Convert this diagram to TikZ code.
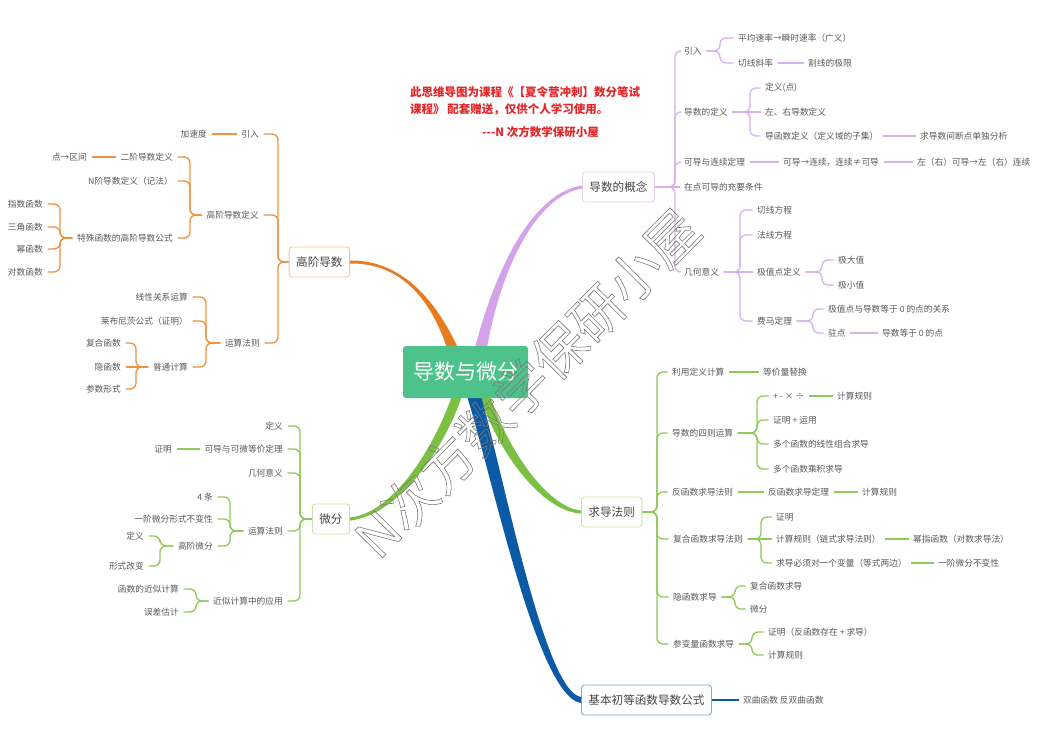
\documentclass[tikz,border=0pt]{standalone}
\usepackage{fontspec}
\setmainfont{Noto Sans CJK SC}
\usetikzlibrary{calc}
\definecolor{txt}{HTML}{595959}
\definecolor{txtb}{HTML}{454545}
\definecolor{org}{HTML}{EA7A1E}
\definecolor{orgl}{HTML}{EE9240}
\definecolor{orgb}{HTML}{F3C59C}
\definecolor{pur}{HTML}{D3A2E8}
\definecolor{purl}{HTML}{D8B0EA}
\definecolor{purb}{HTML}{E6D2EE}
\definecolor{grn}{HTML}{7CC043}
\definecolor{grnl}{HTML}{8FC95A}
\definecolor{grnb}{HTML}{CDE5B2}
\definecolor{blu}{HTML}{0B5AA6}
\definecolor{blub}{HTML}{78ACD9}
\definecolor{ctr}{HTML}{4DC28A}
\definecolor{redt}{HTML}{E3262A}
\definecolor{wm}{HTML}{7A7A7A}
\newcommand\rc[3]{\draw[cn] (#1.east) -- (#1.east -| #3,0) |- (#2.west);}
\newcommand\lc[3]{\draw[cn] (#1.west) -- (#1.west -| #3,0) |- (#2.east);}
\newcommand\rs[2]{\draw[cn] (#1.east) -- (#2.west);}
\newcommand\ls[2]{\draw[cn] (#1.west) -- (#2.east);}
\begin{document}
\begin{tikzpicture}[x=1pt,y=-1pt,
  t/.style={font=\fontsize{8.7}{10}\selectfont, text=txt, inner xsep=4.5pt, inner ysep=1pt},
  R/.style={t, anchor=west, xshift=-4.5pt},
  L/.style={t, anchor=east, xshift=4.5pt},
  cn/.style={line width=1.3pt, rounded corners=6pt},
  lone/.style={draw, rounded corners=3pt, line width=0.9pt, fill=white, font=\fontsize{11.6}{13}\selectfont, text=txtb, inner xsep=7pt, minimum height=30pt},
  redn/.style={anchor=west, font=\bfseries\fontsize{11.5}{13}\selectfont, text=redt, inner sep=0pt}
]
\useasboundingbox[fill=white] (0,0) rectangle (1047,729);

% ---------- level-1 and centre nodes
\node[lone, draw=purb, anchor=west] (gn) at (582,187) {导数的概念};
\node[lone, draw=grnb, anchor=west] (qd) at (581,512) {求导法则};
\node[lone, draw=blub, anchor=west] (jb) at (581,700) {基本初等函数导数公式};
\node[lone, draw=orgb, anchor=east] (gj) at (350,262) {高阶导数};
\node[lone, draw=grnb, anchor=east] (wf) at (350,519) {微分};

% ---------- main branches
\fill[org] (447,348) .. controls (428,292) and (396,263) .. ($(gj.east)+(0,1.5)$) -- ($(gj.east)+(0,-1.5)$) .. controls (396,260) and (432,292) .. (458,348) -- cycle;
\fill[pur] (475,348) .. controls (495,270) and (532,193) .. ($(gn.west)+(0,-1.5)$) -- ($(gn.west)+(0,1.5)$) .. controls (535,196) and (500,272) .. (487,348) -- cycle;
\fill[grn] (452,396) .. controls (432,452) and (392,513) .. ($(wf.east)+(0,-1.5)$) -- ($(wf.east)+(0,1.5)$) .. controls (395,516) and (442,455) .. (462,396) -- cycle;
\fill[grn] (490,396) .. controls (510,455) and (550,508) .. ($(qd.west)+(0,-1.5)$) -- ($(qd.west)+(0,1.5)$) .. controls (545,512) and (500,458) .. (480,396) -- cycle;
\fill[blu] (481,396) .. controls (505,482) and (545,692) .. ($(jb.west)+(0,-3)$) -- ($(jb.west)+(0,3)$) .. controls (538,697) and (494,484) .. (467,396) -- cycle;

\node[fill=ctr, rounded corners=3pt, minimum width=125pt, minimum height=52pt, text=white, font=\fontsize{21}{24}\selectfont, inner sep=0pt] (c) at (465.5,372) {导数与微分};

% ---------- red note
\node[redn] (r1) at (410,92) {此思维导图为课程《【夏令营冲刺】数分笔试};
\node[redn] (r2) at (410,109) {课程》 配套赠送，仅供个人学习使用。};
\node[redn] (r3) at (482,132) {-\kern0pt-\kern0pt-N 次方数学保研小屋};

% ---------- purple group
\node[R] (p1) at (684,51) {引入};
\node[R] (p11) at (738,38) {平均速率→瞬时速率（广义）};
\node[R] (p12) at (738,63) {切线斜率};
\node[R] (p121) at (808,63) {割线的极限};
\node[R] (p2) at (684,112) {导数的定义};
\node[R] (p21) at (765,88) {定义(点)};
\node[R] (p22) at (765,112) {左、右导数定义};
\node[R] (p23) at (765,136) {导函数定义（定义域的子集）};
\node[R] (p231) at (920,136) {求导数间断点单独分析};
\node[R] (p3) at (684,162) {可导与连续定理};
\node[R] (p31) at (783,162) {可导→连续，连续≠可导};
\node[R] (p311) at (917,162) {左（右）可导→左（右）连续};
\node[R] (p4) at (684,187) {在点可导的充要条件};
\node[R] (p5) at (684,272) {几何意义};
\node[R] (p51) at (757,210) {切线方程};
\node[R] (p52) at (757,235) {法线方程};
\node[R] (p53) at (757,272) {极值点定义};
\node[R] (p531) at (838,260) {极大值};
\node[R] (p532) at (838,285) {极小值};
\node[R] (p54) at (757,321) {费马定理};
\node[R] (p541) at (828,309) {极值点与导数等于 0 的点的关系};
\node[R] (p542) at (828,333) {驻点};
\node[R] (p5421) at (882,333) {导数等于 0 的点};
\begin{scope}[color=purl]
\rc{gn}{p1}{675} \rc{gn}{p2}{675} \rc{gn}{p3}{675} \rs{gn}{p4} \rc{gn}{p5}{675}
\rc{p1}{p11}{720} \rc{p1}{p12}{720} \rs{p12}{p121}
\rc{p2}{p21}{750} \rs{p2}{p22} \rc{p2}{p23}{750} \rs{p23}{p231}
\rs{p3}{p31} \rs{p31}{p311}
\rc{p5}{p51}{740} \rc{p5}{p52}{740} \rs{p5}{p53} \rc{p5}{p54}{740}
\rc{p53}{p531}{822} \rc{p53}{p532}{822}
\rc{p54}{p541}{813} \rc{p54}{p542}{813} \rs{p542}{p5421}
\end{scope}

% ---------- green right group
\node[R] (g1) at (672,372) {利用定义计算};
\node[R] (g11) at (763,372) {等价量替换};
\node[R] (g2) at (672,433) {导数的四则运算};
\node[R] (g21) at (773,396) {+ - × ÷};
\node[R] (g211) at (837,396) {计算规则};
\node[R] (g22) at (773,420) {证明 + 运用};
\node[R] (g23) at (773,444) {多个函数的线性组合求导};
\node[R] (g24) at (773,469) {多个函数乘积求导};
\node[R] (g3) at (672,492) {反函数求导法则};
\node[R] (g31) at (768,492) {反函数求导定理};
\node[R] (g311) at (862,492) {计算规则};
\node[R] (g4) at (673,539) {复合函数求导法则};
\node[R] (g41) at (776,517) {证明};
\node[R] (g42) at (776,539) {计算规则（链式求导法则）};
\node[R] (g421) at (913,539) {幂指函数（对数求导法）};
\node[R] (g43) at (776,563) {求导必须对一个变量（等式两边）};
\node[R] (g431) at (938,563) {一阶微分不变性};
\node[R] (g5) at (673,597) {隐函数求导};
\node[R] (g51) at (750,586) {复合函数求导};
\node[R] (g52) at (750,609) {微分};
\node[R] (g6) at (673,644) {参变量函数求导};
\node[R] (g61) at (768,632) {证明（反函数存在 + 求导）};
\node[R] (g62) at (768,655) {计算规则};
\begin{scope}[color=grnl]
\rc{qd}{g1}{657} \rc{qd}{g2}{657} \rc{qd}{g3}{657} \rc{qd}{g4}{657} \rc{qd}{g5}{657} \rc{qd}{g6}{657}
\rs{g1}{g11}
\rc{g2}{g21}{757} \rc{g2}{g22}{757} \rc{g2}{g23}{757} \rc{g2}{g24}{757} \rs{g21}{g211}
\rs{g3}{g31} \rs{g31}{g311}
\rc{g4}{g41}{761} \rs{g4}{g42} \rc{g4}{g43}{761} \rs{g42}{g421} \rs{g43}{g431}
\rc{g5}{g51}{735} \rc{g5}{g52}{735}
\rc{g6}{g61}{752} \rc{g6}{g62}{752}
\end{scope}

% ---------- blue
\node[R] (b1) at (743,700) {双曲函数 反双曲函数};
\draw[blu, line width=2.6pt] (jb.east) -- (b1.west);

% ---------- orange group
\node[L] (o1) at (259,134) {引入};
\node[L] (o11) at (207,134) {加速度};
\node[L] (o2) at (259,215) {高阶导数定义};
\node[L] (o21) at (173,157) {二阶导数定义};
\node[L] (o211) at (87,157) {点→区间};
\node[L] (o22) at (173,181) {N阶导数定义（记法）};
\node[L] (o23) at (173,238) {特殊函数的高阶导数公式};
\node[L] (o231) at (43,204) {指数函数};
\node[L] (o232) at (43,227) {三角函数};
\node[L] (o233) at (43,249) {幂函数};
\node[L] (o234) at (43,272) {对数函数};
\node[L] (o3) at (260,343) {运算法则};
\node[L] (o31) at (188,297) {线性关系运算};
\node[L] (o32) at (188,321) {莱布尼茨公式（证明）};
\node[L] (o33) at (188,367) {普通计算};
\node[L] (o331) at (121,343) {复合函数};
\node[L] (o332) at (121,367) {隐函数};
\node[L] (o333) at (121,389) {参数形式};
\begin{scope}[color=orgl]
\lc{gj}{o1}{278} \lc{gj}{o2}{278} \lc{gj}{o3}{278}
\ls{o1}{o11}
\lc{o2}{o21}{190} \lc{o2}{o22}{190} \lc{o2}{o23}{190} \ls{o21}{o211}
\lc{o23}{o231}{60} \lc{o23}{o232}{60} \lc{o23}{o233}{60} \lc{o23}{o234}{60}
\lc{o3}{o31}{206} \lc{o3}{o32}{206} \lc{o3}{o33}{206}
\lc{o33}{o331}{136} \ls{o33}{o332} \lc{o33}{o333}{136}
\end{scope}

% ---------- green left group
\node[L] (w1) at (283,426) {定义};
\node[L] (w2) at (283,449) {可导与可微等价定理};
\node[L] (w21) at (172,449) {证明};
\node[L] (w3) at (283,473) {几何意义};
\node[L] (w4) at (283,531) {运算法则};
\node[L] (w41) at (213,497) {4 条};
\node[L] (w42) at (213,519) {一阶微分形式不变性};
\node[L] (w43) at (213,546) {高阶微分};
\node[L] (w431) at (144,536) {定义};
\node[L] (w432) at (144,566) {形式改变};
\node[L] (w5) at (283,601) {近似计算中的应用};
\node[L] (w51) at (179,589) {函数的近似计算};
\node[L] (w52) at (179,612) {误差估计};
\begin{scope}[color=grnl]
\lc{wf}{w1}{300} \lc{wf}{w2}{300} \lc{wf}{w3}{300} \lc{wf}{w4}{300} \lc{wf}{w5}{300}
\ls{w2}{w21}
\lc{w4}{w41}{230} \lc{w4}{w42}{230} \lc{w4}{w43}{230}
\lc{w43}{w431}{160} \lc{w43}{w432}{160}
\lc{w5}{w51}{196} \lc{w5}{w52}{196}
\end{scope}

% ---------- watermark
\node[rotate=45.3, font=\fontsize{53}{53}\selectfont, text=wm, inner sep=0pt] (wmk) at (527,383) {\special{pdf:literal direct 0.6 w 1 Tr}N次方数学保研小屋\special{pdf:literal direct 0 Tr}};
\end{tikzpicture}
\end{document}
